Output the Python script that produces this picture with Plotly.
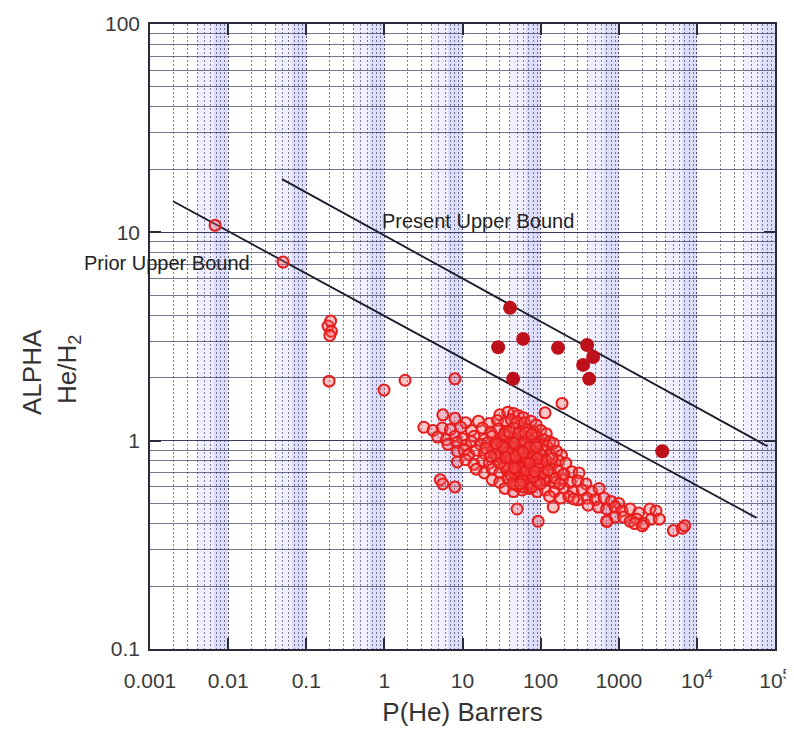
import plotly.graph_objects as go

# ---------------- data ----------------
# open circles: P(He) [Barrers], alpha He/H2
open_x = [
    0.0068, 0.0505, 0.19, 0.205, 0.21, 0.2, 0.196, 0.99, 1.84, 8.0, 188, 114,
    # top rows of the main cloud
    5.6, 8.0, 30, 38, 45, 52, 60,
    11, 16, 22, 28, 35, 42, 50, 62, 75, 88,
    3.2, 4.2, 5.5, 7, 9.5, 13, 18, 23, 29, 36, 45, 55, 68, 82, 100, 118,
    4.8, 6.2, 8, 10, 14, 19, 24, 30, 38, 48, 58, 72, 90, 110, 130,
    6.5, 8.5, 11, 13, 17, 21, 27, 33, 40, 50, 62, 78, 95, 120, 145,
    8.6, 10.5, 12, 15, 19, 24, 30, 36, 44, 52, 62, 75, 88, 105, 130, 160, 185,
    8.6, 11, 14, 18, 22, 28, 34, 42, 50, 58, 68, 80, 95, 115, 140, 170, 210,
    15, 19, 24, 30, 37, 45, 54, 64, 75, 90, 110, 135, 165, 200, 250, 310,
    24, 30, 38, 46, 56, 68, 80, 98, 120, 150, 190, 240, 300, 380,
    35, 45, 58, 72, 90, 115, 150, 200, 260, 340, 450, 560,
    130, 180, 230, 300, 390, 500, 650, 800, 1000,
    550, 700, 900, 1100, 1400, 1800, 2500, 3000,
    700, 900, 1150, 1400, 1700, 2100, 2600, 3300,
    1600, 2000, 5000, 6500, 7000,
    # dense centre
    45, 50, 55, 60, 65, 70, 48, 56, 62, 52, 66, 44, 72, 58, 40, 76,
    54, 64, 68, 47, 80, 85, 38, 60, 70, 50, 42, 95, 100, 110, 78, 88,
    25, 28, 32, 35, 38, 42, 46, 50, 54, 58, 62, 66, 70, 75, 80, 86, 92, 100, 108, 118,
    30, 34, 40, 46, 52, 58, 64, 72, 80, 90,
    26, 33, 44, 55, 66, 77, 88, 99,
    36, 48, 60, 72, 84,
    20, 23, 27, 125, 140, 155, 175, 195,
    # strays
    5.2, 5.6, 8.0, 50, 93, 707, 145, 265, 405,
]
open_y = [
    10.8, 7.2, 3.55, 3.75, 3.35, 3.2, 1.93, 1.75, 1.95, 1.98, 1.51, 1.36,
    1.33, 1.28, 1.33, 1.37, 1.35, 1.32, 1.29,
    1.22, 1.24, 1.21, 1.25, 1.22, 1.26, 1.23, 1.22, 1.24, 1.19,
    1.16, 1.12, 1.15, 1.13, 1.16, 1.12, 1.15, 1.10, 1.14, 1.11, 1.15, 1.10, 1.13, 1.10, 1.12, 1.08,
    1.04, 1.01, 1.05, 1.02, 1.05, 1.01, 1.05, 1.01, 1.04, 1.01, 1.05, 1.02, 1.04, 1.01, 0.99,
    0.96, 0.98, 0.95, 0.99, 0.96, 0.98, 0.95, 0.99, 0.96, 0.98, 0.95, 0.99, 0.96, 0.94, 0.97,
    0.89, 0.90, 0.86, 0.90, 0.87, 0.90, 0.86, 0.91, 0.88, 0.90, 0.86, 0.91, 0.87, 0.90, 0.86, 0.89, 0.85,
    0.79, 0.81, 0.77, 0.80, 0.78, 0.81, 0.77, 0.80, 0.78, 0.82, 0.77, 0.80, 0.78, 0.81, 0.77, 0.80, 0.78,
    0.73, 0.70, 0.73, 0.70, 0.72, 0.70, 0.73, 0.70, 0.72, 0.70, 0.73, 0.70, 0.72, 0.69, 0.71, 0.70,
    0.65, 0.63, 0.66, 0.64, 0.65, 0.63, 0.66, 0.64, 0.65, 0.63, 0.65, 0.63, 0.64, 0.62,
    0.59, 0.57, 0.58, 0.59, 0.57, 0.58, 0.57, 0.59, 0.57, 0.58, 0.57, 0.59,
    0.54, 0.53, 0.54, 0.52, 0.53, 0.52, 0.53, 0.51, 0.50,
    0.48, 0.47, 0.48, 0.46, 0.47, 0.45, 0.47, 0.46,
    0.41, 0.43, 0.43, 0.41, 0.42, 0.40, 0.42, 0.42,
    0.40, 0.39, 0.37, 0.38, 0.39,
    0.85, 0.76, 0.84, 0.77, 0.86, 0.75, 0.93, 0.70, 0.68, 0.67, 0.89, 0.77, 0.84, 0.95, 0.86, 0.77,
    0.90, 0.80, 0.66, 0.70, 0.88, 0.74, 0.76, 0.60, 0.62, 0.61, 0.68, 0.68, 0.76, 0.66, 0.60, 0.64,
    0.92, 0.84, 0.95, 0.75, 0.88, 0.82, 0.97, 0.72, 0.87, 0.74, 1.00, 0.83, 0.92, 0.70, 0.85, 0.96, 0.75, 0.86, 0.70, 0.80,
    0.78, 1.07, 1.10, 0.74, 1.08, 0.64, 1.09, 0.93, 0.67, 0.82,
    0.86, 0.93, 0.62, 0.62, 0.72, 1.07, 0.93, 0.62,
    0.83, 0.84, 0.88, 0.78, 0.71,
    0.92, 0.84, 0.97, 0.72, 0.82, 0.66, 0.62, 0.69,
    0.65, 0.62, 0.60, 0.47, 0.41, 0.41, 0.48, 0.525, 0.49,
]

# filled circles
filled_x = [40.6, 28.6, 59.7, 167, 44.5, 394, 470, 350, 418, 3600]
filled_y = [4.34, 2.81, 3.08, 2.79, 1.98, 2.88, 2.52, 2.31, 1.98, 0.89]

# upper bound lines (end points)
prior_x = [0.00197, 58000]
prior_y = [14.1, 0.426]
present_x = [0.049, 80000]
present_y = [18.0, 0.94]

x_tickvals = [0.001, 0.01, 0.1, 1, 10, 100, 1000, 1e4, 1e5]
x_ticktext = ["0.001", "0.01", "0.1", "1", "10", "100", "1000",
              "10<sup>4</sup>", "10<sup>5</sup>"]
y_tickvals = [0.1, 1, 10, 100]
y_ticktext = ["0.1", "1", "10", "100"]

FONT = "Liberation Sans, Arial, sans-serif"

fig = go.Figure()

fig.add_trace(go.Scatter(x=prior_x, y=prior_y, mode="lines",
                         line=dict(color="#1a1a2a", width=1.8),
                         showlegend=False, hoverinfo="skip"))
fig.add_trace(go.Scatter(x=present_x, y=present_y, mode="lines",
                         line=dict(color="#1a1a2a", width=1.8),
                         showlegend=False, hoverinfo="skip"))
fig.add_trace(go.Scatter(x=open_x, y=open_y, mode="markers",
                         marker=dict(symbol="circle", size=11,
                                     color="rgba(245,90,90,0.35)",
                                     line=dict(width=2, color="rgb(232,28,28)")),
                         showlegend=False))
fig.add_trace(go.Scatter(x=filled_x, y=filled_y, mode="markers",
                         marker=dict(symbol="circle", size=14,
                                     color="rgb(190,16,26)",
                                     line=dict(width=0)),
                         showlegend=False))

# pale blue bands in each decade (denser towards the upper end of the decade)
shapes = []
for k in range(-3, 5):
    shapes.append(dict(type="rect", xref="x", yref="paper",
                       x0=4 * 10 ** k, x1=10 ** (k + 1), y0=0, y1=1,
                       fillcolor="rgba(120,120,235,0.12)", line=dict(width=0),
                       layer="below"))
    shapes.append(dict(type="rect", xref="x", yref="paper",
                       x0=6.5 * 10 ** k, x1=10 ** (k + 1), y0=0, y1=1,
                       fillcolor="rgba(120,120,235,0.14)", line=dict(width=0),
                       layer="below"))

axis_common = dict(
    type="log", showline=True, linecolor="#2a2a3a", linewidth=1.5,
    mirror="ticks", ticks="inside", ticklen=11, tickwidth=1.5,
    tickcolor="#2a2a3a", zeroline=False, automargin=False,
    tickfont=dict(family=FONT, size=21, color="#3a3a3a"),
)

# the page body has an 8 px margin, so the figure is 8 px smaller
fig.update_layout(
    width=786, height=723,
    margin=dict(l=142, r=19, t=16, b=82),
    paper_bgcolor="white", plot_bgcolor="white",
    shapes=shapes,
    xaxis=dict(
        **axis_common,
        range=[-3, 5],
        tickvals=x_tickvals, ticktext=x_ticktext,
        ticklabelstandoff=12,
        showgrid=True, gridcolor="rgba(60,60,100,0.75)", gridwidth=1,
        griddash="2px,2px",
        minor=dict(dtick="D1", showgrid=True, gridcolor="rgba(60,60,100,0.65)",
                   gridwidth=1, griddash="2px,2px", ticks=""),
        title=dict(text="P(He) Barrers", font=dict(family=FONT, size=26, color="#333333"),
                   standoff=12),
    ),
    yaxis=dict(
        **axis_common,
        range=[-1, 2],
        tickvals=y_tickvals, ticktext=y_ticktext,
        ticklabelstandoff=4,
        showgrid=True, gridcolor="rgba(40,40,80,0.72)", gridwidth=1,
        minor=dict(dtick="D1", showgrid=True, gridcolor="rgba(40,40,80,0.64)",
                   gridwidth=1, ticks=""),
    ),
    annotations=[
        dict(text="Present Upper Bound", xref="paper", yref="paper",
             x=0.368, y=0.685, xanchor="left", yanchor="middle", showarrow=False,
             font=dict(family=FONT, size=20, color="#222222")),
        dict(text="Prior Upper Bound", xref="paper", yref="paper",
             x=-0.109, y=0.618, xanchor="left", yanchor="middle", showarrow=False,
             font=dict(family=FONT, size=20, color="#222222")),
        dict(text="ALPHA", xref="paper", yref="paper",
             x=(32 - 150) / 625, y=(649 - 372) / 625, xanchor="center", yanchor="middle",
             textangle=-90, showarrow=False,
             font=dict(family=FONT, size=26, color="#333333")),
        dict(text="He/H<sub>2</sub>", xref="paper", yref="paper",
             x=(68 - 150) / 625, y=(649 - 370) / 625, xanchor="center", yanchor="middle",
             textangle=-90, showarrow=False,
             font=dict(family=FONT, size=26, color="#333333")),
    ],
)

fig.write_html("out.html")
